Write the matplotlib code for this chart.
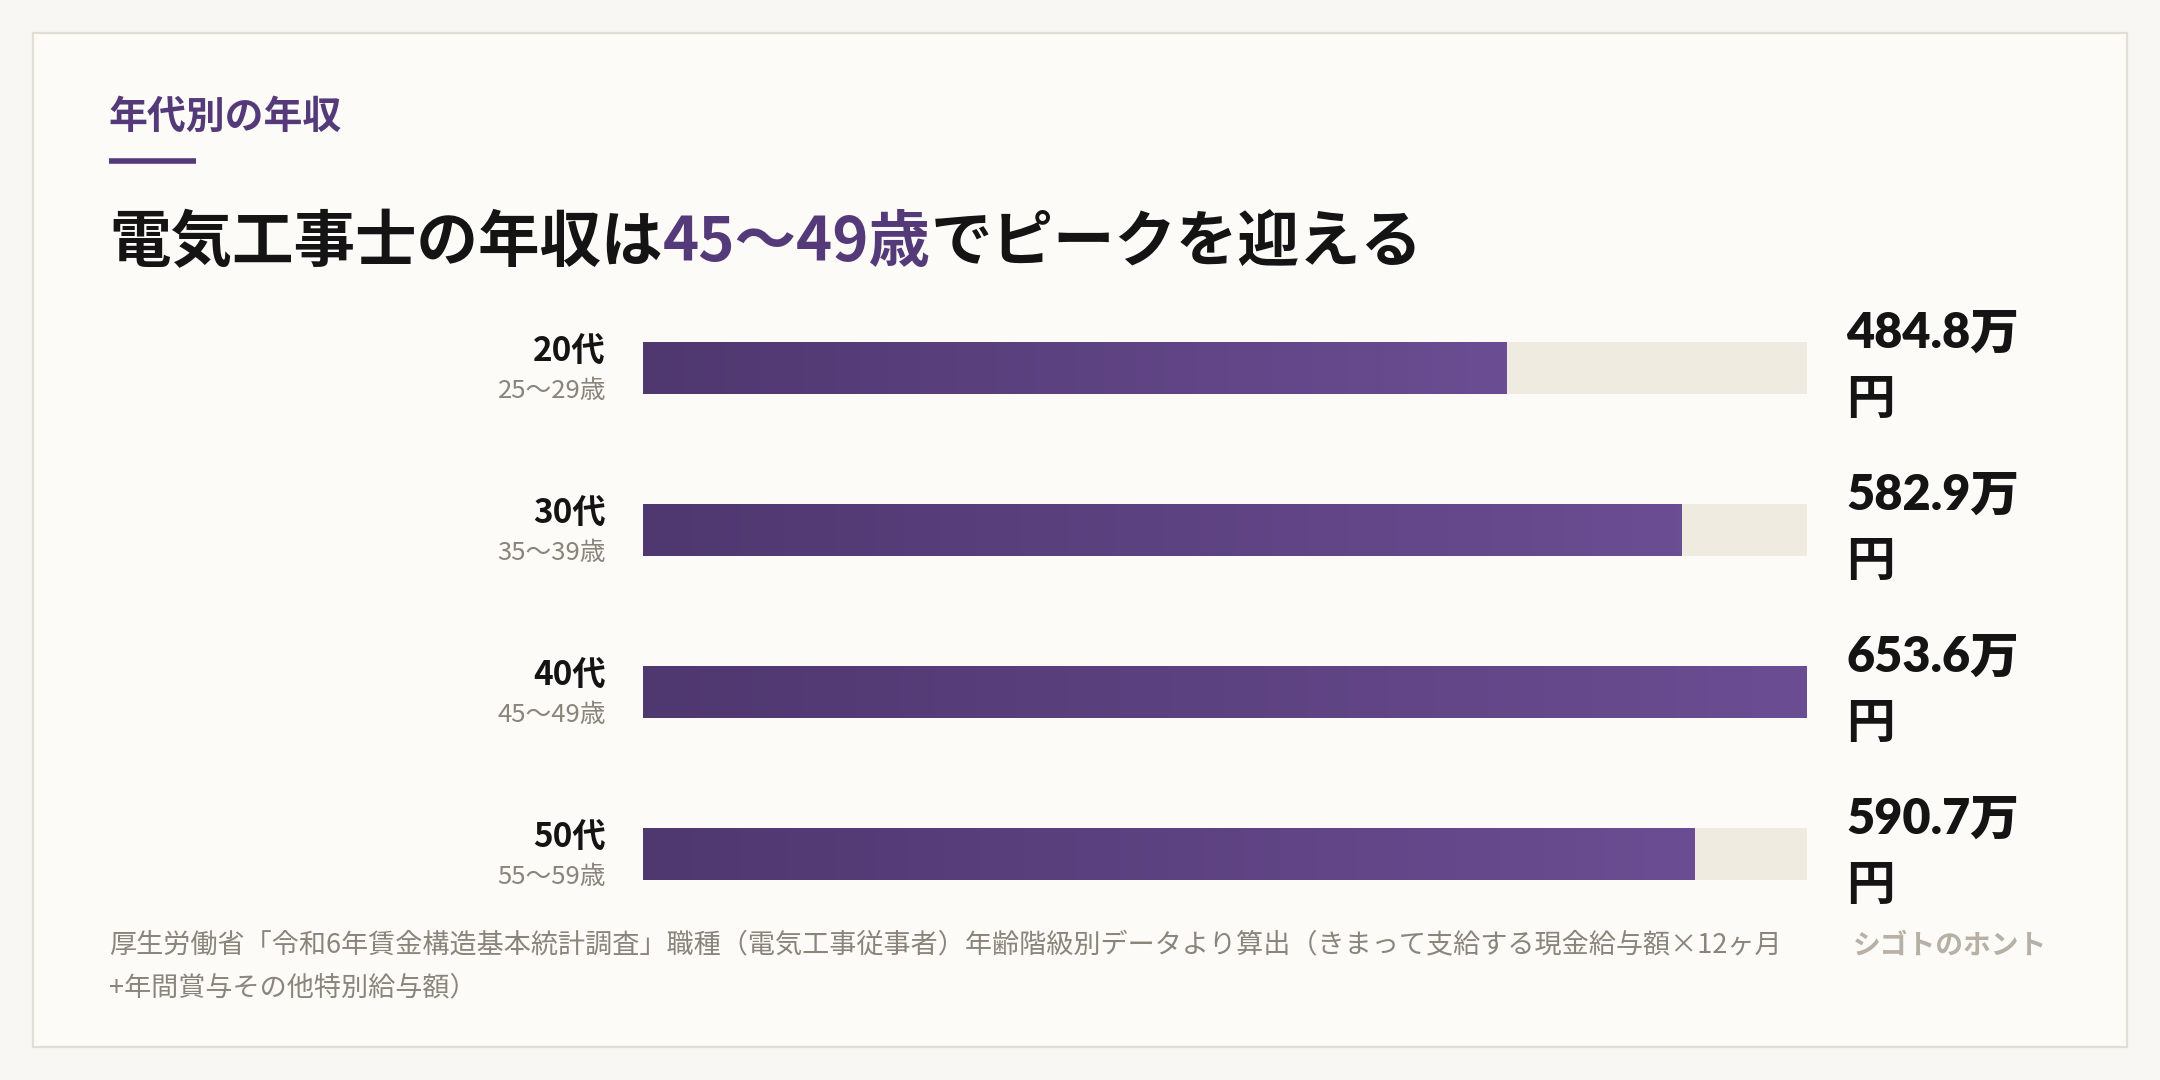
import matplotlib.pyplot as plt
import numpy as np
from matplotlib.colors import LinearSegmentedColormap
from matplotlib.patches import Rectangle

plt.rcParams['font.family'] = ['Noto Sans CJK JP', 'DejaVu Sans']

# Data
age_groups = ['20代', '30代', '40代', '50代']
age_ranges = ['25〜29歳', '35〜39歳', '45〜49歳', '55〜59歳']
income = [484.8, 582.9, 653.6, 590.7]  # 万円

kicker = '年代別の年収'
title_parts = ['電気工事士の年収は', '45〜49歳', 'でピークを迎える']
note_lines = ['厚生労働省「令和6年賃金構造基本統計調査」職種（電気工事従事者）年齢階級別データより算出（きまって支給する現金給与額×12ヶ月',
              '+年間賞与その他特別給与額）']
brand = 'シゴトのホント'

# Colours
PURPLE = '#553A7A'
BAR_L, BAR_R = '#4F376F', '#6B4D93'
TRACK = '#EFEBE1'
INK = '#141414'
GREY = '#8A847A'

W, H = 2160, 1080
fig = plt.figure(figsize=(W / 100, H / 100), dpi=100, facecolor='#F8F7F3')

# background axes for card + free text
bg = fig.add_axes([0, 0, 1, 1])
bg.set_xlim(0, W)
bg.set_ylim(H, 0)
bg.axis('off')
bg.add_patch(Rectangle((33, 33), 2094, 1014, facecolor='#FCFBF8',
                       edgecolor='#E3DED3', linewidth=1.6, zorder=0))

# kicker + underline
bg.text(109, 117, kicker, fontsize=28, fontweight='bold', color=PURPLE,
        ha='left', va='center')
bg.plot([109, 196], [161, 161], color=PURPLE, linewidth=4, solid_capstyle='butt')

# title in three colour runs
t = bg.text(109, 243, title_parts[0], fontsize=44.3, fontweight='bold', color=INK,
            ha='left', va='center')
t = bg.annotate(title_parts[1], xy=(1, 0.5), xycoords=t, fontsize=44.3,
                fontweight='bold', color=PURPLE, ha='left', va='center')
bg.annotate(title_parts[2], xy=(1, 0.5), xycoords=t, fontsize=44.3,
            fontweight='bold', color=INK, ha='left', va='center')

# footer
bg.text(109, 946, note_lines[0], fontsize=19.5, color=GREY, ha='left', va='center')
bg.text(109, 988, note_lines[1], fontsize=19.5, color=GREY, ha='left', va='center')
bg.text(1853, 946, brand, fontsize=20, fontweight='bold', color='#B6B0A5',
        ha='left', va='center')

# bar chart
ax = fig.add_axes([643 / W, 1 - 935 / H, (1807 - 643) / W, 648 / H])
ax.set_facecolor('none')
y = np.arange(len(income))
vmax = max(income)
ax.barh(y, [vmax] * len(income), height=0.32, color=TRACK, zorder=1)
bars = ax.barh(y, income, height=0.32, color='none', zorder=2)

cmap = LinearSegmentedColormap.from_list('bar', [BAR_L, BAR_R])
grad = np.linspace(0, 1, 256).reshape(1, -1)
for p in bars.patches:
    x0, y0 = p.get_x(), p.get_y()
    ax.imshow(grad, cmap=cmap, aspect='auto', zorder=3,
              extent=(x0, x0 + p.get_width(), y0 + p.get_height(), y0))

ax.set_xlim(0, vmax)
ax.set_ylim(len(income) - 0.5, -0.5)
ax.axis('off')

for i, (g, r, v) in enumerate(zip(age_groups, age_ranges, income)):
    ax.annotate(g, xy=(0, i), xycoords=('axes fraction', 'data'),
                xytext=(-37, 17), textcoords='offset pixels',
                fontsize=24, fontweight='bold', color=INK, ha='right', va='center')
    ax.annotate(r, xy=(0, i), xycoords=('axes fraction', 'data'),
                xytext=(-37, -23), textcoords='offset pixels',
                fontsize=18.5, color=GREY, ha='right', va='center')
    ax.annotate(f'{v:.1f}万', xy=(1, i), xycoords=('axes fraction', 'data'),
                xytext=(39, 35), textcoords='offset pixels',
                fontsize=35, fontweight='heavy', color=INK, ha='left', va='center',
                family=['Lato', 'Noto Sans CJK JP'])
    ax.annotate('円', xy=(1, i), xycoords=('axes fraction', 'data'),
                xytext=(39, -32), textcoords='offset pixels',
                fontsize=35, fontweight='bold', color=INK, ha='left', va='center')

fig.savefig('out.png', dpi=100, facecolor=fig.get_facecolor())
